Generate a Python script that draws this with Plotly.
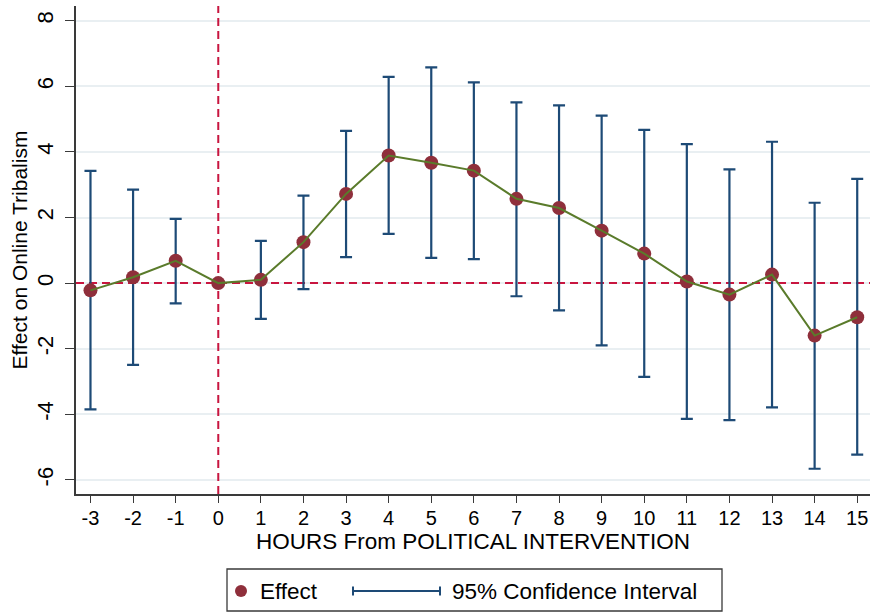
import numpy as np
import plotly.graph_objects as go

# Event-study estimates by hour relative to the political intervention
hours = [-3, -2, -1, 0, 1, 2, 3, 4, 5, 6, 7, 8, 9, 10, 11, 12, 13, 14, 15]
effect = [-0.22, 0.18, 0.68, 0.0, 0.10, 1.25, 2.72, 3.89, 3.67, 3.43,
          2.57, 2.29, 1.60, 0.90, 0.05, -0.35, 0.26, -1.60, -1.04]
ci_low = [-3.85, -2.49, -0.62, None, -1.09, -0.18, 0.79, 1.50, 0.77, 0.73,
          -0.40, -0.83, -1.90, -2.86, -4.14, -4.18, -3.79, -5.66, -5.23]
ci_high = [3.42, 2.85, 1.96, None, 1.29, 2.67, 4.64, 6.29, 6.58, 6.12,
           5.51, 5.42, 5.11, 4.67, 4.24, 3.47, 4.31, 2.45, 3.18]

x_ticks = hours
y_ticks = [-6, -4, -2, 0, 2, 4, 6, 8]
x_range = [-3.34, 15.3]
y_range = [-6.43, 8.45]

x_label = "HOURS From POLITICAL INTERVENTION"
y_label = "Effect on Online Tribalism"
legend_labels = ["Effect", "95% Confidence Interval"]

MAROON = "#8f2f3b"
NAVY = "#1d4a76"
OLIVE = "#5a7b2b"
CRIMSON = "#c8153f"
GRID = "#e9eff2"
AXIS = "#3a3a3a"
FONT = "Arial, Liberation Sans, sans-serif"

W, H = 873, 613
ML, MR, MT, MB = 76, 3, 6, 119

# Rows that carry a confidence interval (the reference hour has none)
ci_rows = [i for i, lo in enumerate(ci_low) if lo is not None]
ci_x = np.array([hours[i] for i in ci_rows])
ci_mid = np.array([effect[i] for i in ci_rows])
ci_up = np.array([ci_high[i] for i in ci_rows]) - ci_mid
ci_dn = ci_mid - np.array([ci_low[i] for i in ci_rows])

fig = go.Figure()

# Dashed reference lines at zero effect and at the intervention hour
ref_line = dict(color=CRIMSON, width=2, dash="8px,5px")
fig.add_trace(go.Scatter(x=x_range, y=[0, 0], mode="lines", line=ref_line,
                         showlegend=False, hoverinfo="skip"))
fig.add_trace(go.Scatter(x=[0, 0], y=y_range, mode="lines", line=ref_line,
                         showlegend=False, hoverinfo="skip"))

# Confidence interval caps
fig.add_trace(go.Scatter(
    x=ci_x, y=ci_mid, mode="markers",
    marker=dict(size=1, color="rgba(0,0,0,0)"),
    error_y=dict(type="data", symmetric=False, array=ci_up, arrayminus=ci_dn,
                 color=NAVY, thickness=2.2, width=6),
    showlegend=False, hoverinfo="skip",
))

# Point estimates
fig.add_trace(go.Scatter(
    x=hours, y=effect, mode="markers",
    marker=dict(size=14, color=MAROON),
    showlegend=False,
))

# Connecting line drawn above the markers
fig.add_trace(go.Scatter(
    x=hours, y=effect, mode="lines",
    line=dict(color=OLIVE, width=2),
    showlegend=False, hoverinfo="skip",
))

# Legend box below the plot, laid out in pixel units
pw, ph = W - ML - MR, H - MT - MB


def px(xp):
    return (xp - ML) / pw


def py(yp):
    return (H - MB - yp) / ph


shapes = [
    dict(type="rect", xref="paper", yref="paper",
         x0=px(227), x1=px(722), y0=py(611), y1=py(569),
         line=dict(color=AXIS, width=1.3), fillcolor="white"),
    dict(type="circle", xref="paper", yref="paper",
         x0=px(235), x1=px(247), y0=py(597), y1=py(585),
         line=dict(color=MAROON, width=0), fillcolor=MAROON),
    dict(type="line", xref="paper", yref="paper",
         x0=px(353), x1=px(440), y0=py(591), y1=py(591),
         line=dict(color=NAVY, width=2)),
]
for cx in (353, 440):
    shapes.append(dict(type="line", xref="paper", yref="paper",
                       x0=px(cx), x1=px(cx), y0=py(586.5), y1=py(595.5),
                       line=dict(color=NAVY, width=2)))

annotations = [
    dict(text=legend_labels[0], xref="paper", yref="paper", x=px(258), y=py(591),
         xanchor="left", yanchor="middle", showarrow=False,
         font=dict(family=FONT, size=22.5, color="black")),
    dict(text=legend_labels[1], xref="paper", yref="paper", x=px(450), y=py(591),
         xanchor="left", yanchor="middle", showarrow=False,
         font=dict(family=FONT, size=22.5, color="black")),
]

fig.update_layout(
    width=W, height=H,
    margin=dict(l=ML, r=MR, t=MT, b=MB),
    paper_bgcolor="white", plot_bgcolor="white",
    font=dict(family=FONT, color="black"),
    showlegend=False,
    shapes=shapes,
    annotations=annotations,
    xaxis=dict(
        range=x_range, tickvals=x_ticks, ticktext=[str(v) for v in x_ticks],
        showgrid=False, zeroline=False,
        showline=True, linecolor=AXIS, linewidth=2,
        ticks="outside", ticklen=7, tickwidth=1.3, tickcolor=AXIS,
        ticklabelstandoff=-2,
        tickfont=dict(size=20, family=FONT),
        title=dict(text=x_label, font=dict(size=22.5, family=FONT), standoff=4),
    ),
    yaxis=dict(
        range=y_range, tickvals=y_ticks, ticktext=[str(v) for v in y_ticks],
        showgrid=True, gridcolor=GRID, gridwidth=1.5, zeroline=False,
        showline=True, linecolor=AXIS, linewidth=2,
        ticks="outside", ticklen=9, tickwidth=1.3, tickcolor=AXIS,
        tickangle=-90, ticklabelstandoff=3,
        tickfont=dict(size=22, family=FONT),
        title=dict(text=y_label, font=dict(size=21, family=FONT), standoff=0),
    ),
)

fig.write_html("out.html")
